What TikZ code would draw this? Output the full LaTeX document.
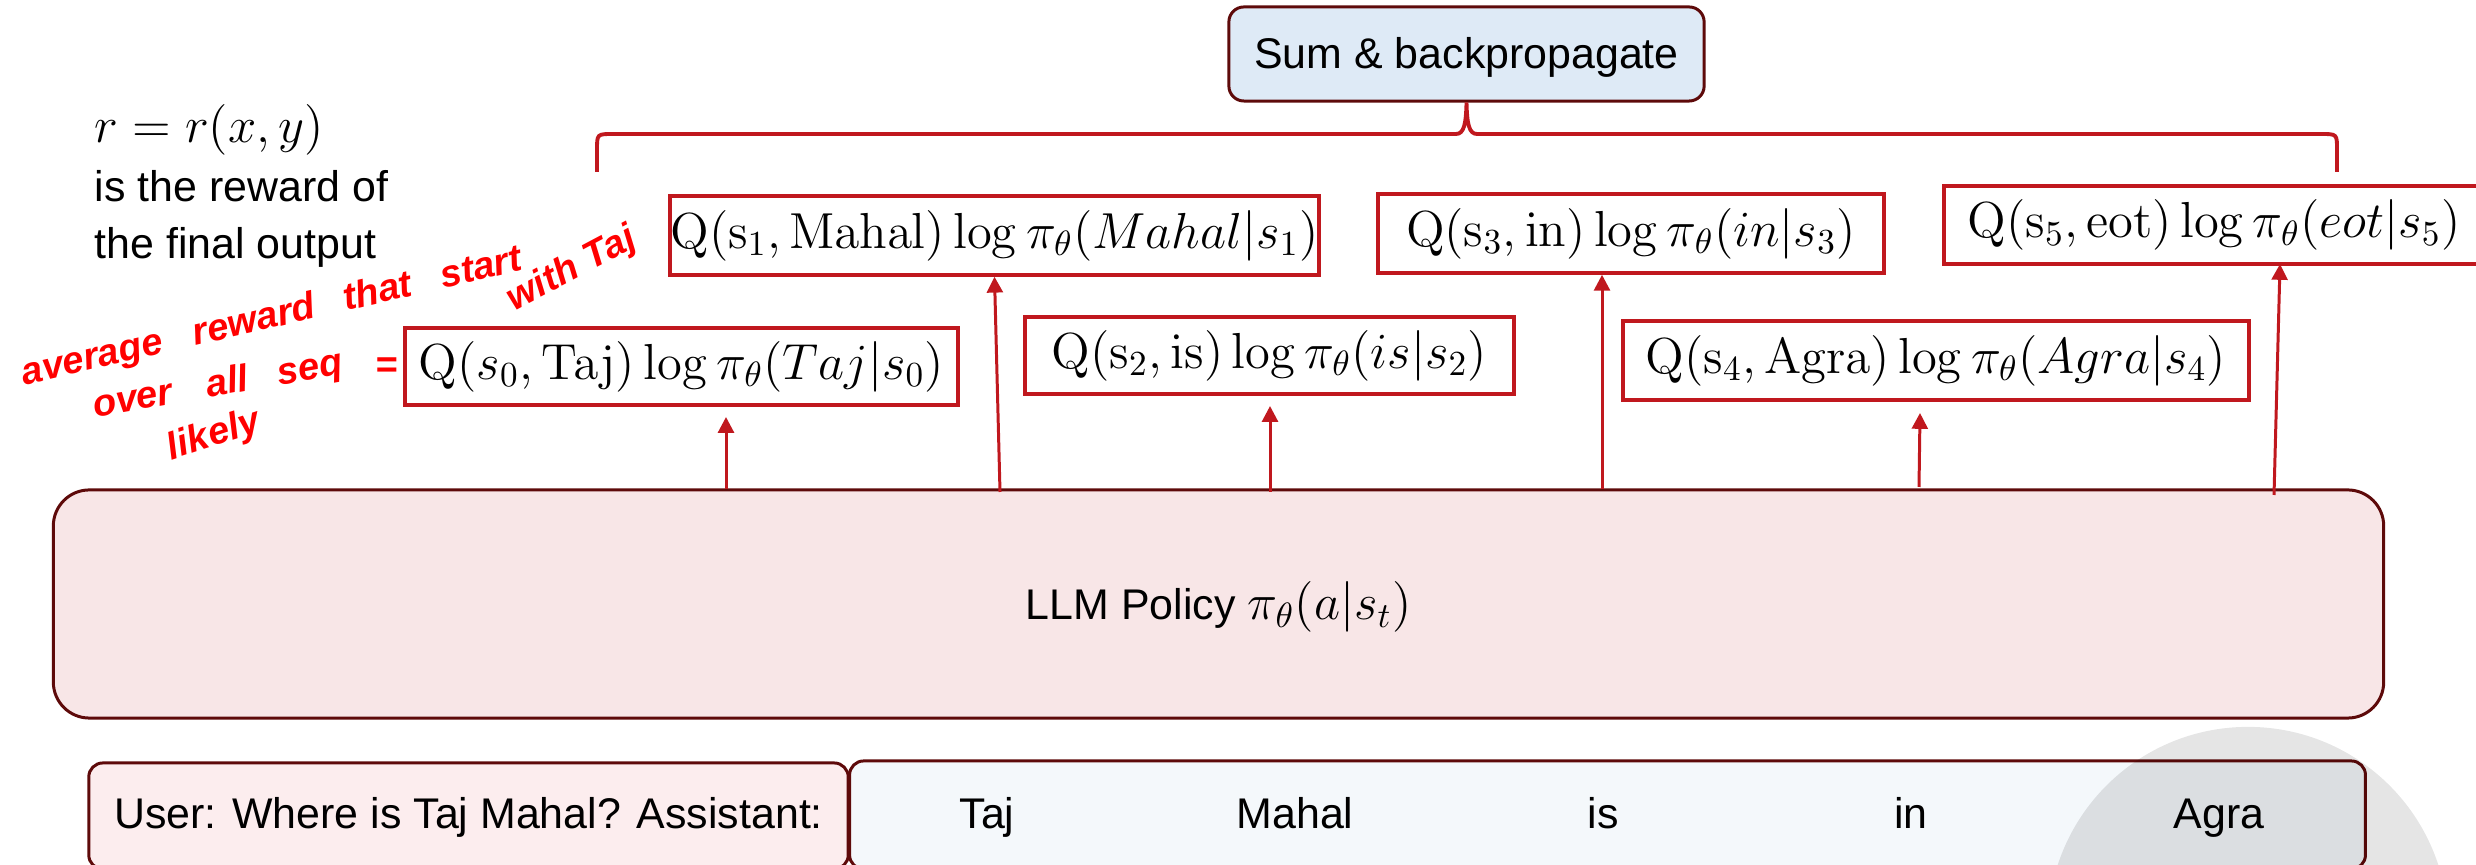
\documentclass[tikz,border=0pt]{standalone}
\usepackage[no-math]{fontspec}
\setmainfont{Liberation Sans}
\setsansfont{Liberation Sans}
\usetikzlibrary{arrows.meta}
\definecolor{qred}{RGB}{192,24,30}
\definecolor{dred}{RGB}{94,10,10}
\definecolor{sumfill}{RGB}{222,234,246}
\definecolor{llmfill}{RGB}{248,230,231}
\definecolor{userfill}{RGB}{252,237,238}
\definecolor{respfill}{RGB}{244,248,251}
\definecolor{hand}{RGB}{255,0,0}
\newcommand{\txtsize}{\fontsize{12.2}{14.6}\selectfont}
\newcommand{\mathsz}{\fontsize{13.7}{16}\selectfont}
\newcommand{\handsz}{\fontsize{10.8}{13}\selectfont}
\tikzset{
  qbox/.style={draw=qred, line width=1pt, fill=white, inner sep=0pt, font=\mathsz},
  dbox/.style={draw=dred, line width=0.85pt, inner sep=0pt, font=\txtsize},
  arr/.style={draw=qred, line width=0.85pt, -{Triangle[length=4.5pt,width=4.5pt]}},
  hw/.style={text=hand, font=\handsz\bfseries\itshape, inner sep=0pt},
  tok/.style={font=\txtsize, inner sep=0pt, anchor=base},
  lefttxt/.style={font=\txtsize, inner sep=0pt, anchor=base west},
  bracestyle/.style={draw=qred, line width=1.1pt},
}
\begin{document}
\begin{tikzpicture}[x=0.01cm, y=-0.01cm]
\useasboundingbox (0,0) rectangle (2476,865);

% LLM policy box
\node[dbox, fill=llmfill, rounded corners=0.36cm, minimum width=23.29cm, minimum height=2.28cm] (llm) at (1218.5,604) {};
\node[tok] (llmtxt) at (1218.5,620) {LLM Policy {\mathsz$\pi_\theta(a|s_t)$}};

% bottom boxes
\node[dbox, fill=userfill, rounded corners=0.14cm, minimum width=7.59cm, minimum height=1.06cm] (user) at (468.5,816) {};
\node[tok] (usertxt) at (468.5,829) {User: Where is Taj Mahal? Assistant:};
\node[dbox, fill=respfill, rounded corners=0.14cm, minimum width=15.15cm, minimum height=1.08cm] (resp) at (1607.5,815) {};
\fill[black, fill opacity=0.1] (2248,927) circle[radius=2cm];
\node[tok] (w1) at (987,829) {Taj};
\node[tok] (w2) at (1295,829) {Mahal};
\node[tok] (w3) at (1603,829) {is};
\node[tok] (w4) at (1911,829) {in};
\node[tok] (w5) at (2219,829) {Agra};

% Q boxes
\node[qbox, minimum width=5.53cm, minimum height=0.77cm] (q0) at (681.5,366.5) {$\mathrm{Q}(s_0, \mathrm{Taj})\log\pi_\theta(Taj|s_0)$};
\node[qbox, minimum width=6.49cm, minimum height=0.79cm] (q1) at (994.5,235.5) {$\mathrm{Q}(\mathrm{s}_1, \mathrm{Mahal})\log\pi_\theta(Mahal|s_1)$};
\node[qbox, minimum width=4.89cm, minimum height=0.77cm] (q2) at (1269.5,355.5) {$\mathrm{Q}(\mathrm{s}_2, \mathrm{is})\log\pi_\theta(is|s_2)$};
\node[qbox, minimum width=5.06cm, minimum height=0.79cm] (q3) at (1631,233.5) {$\mathrm{Q}(\mathrm{s}_3, \mathrm{in})\log\pi_\theta(in|s_3)$};
\node[qbox, minimum width=6.26cm, minimum height=0.79cm] (q4) at (1936,360.5) {$\mathrm{Q}(\mathrm{s}_4, \mathrm{Agra})\log\pi_\theta(Agra|s_4)$};
\node[qbox, minimum width=5.40cm, minimum height=0.78cm] (q5) at (2214,225) {$\mathrm{Q}(\mathrm{s}_5, \mathrm{eot})\log\pi_\theta(eot|s_5)$};

% arrows
\coordinate (t0) at (726,489);
\coordinate (h0) at (726,417);
\coordinate (t1) at (1000,492);
\coordinate (t2) at (1270,492);
\coordinate (h2) at (1270,406);
\coordinate (t3) at (1602,489);
\coordinate (t4) at (1919,487);
\coordinate (h4) at (1920,413);
\coordinate (t5) at (2274,495);
\coordinate (h5) at (2280,264);
\draw[arr] (t0) -- (h0);
\draw[arr] (t1) -- (q1.south);
\draw[arr] (t2) -- (h2);
\draw[arr] (t3) -- (q3.south -| t3);
\draw[arr] (t4) -- (h4);
\draw[arr] (t5) -- (h5);

% sum box and brace
\node[dbox, fill=sumfill, rounded corners=0.15cm, minimum width=4.75cm, minimum height=0.94cm] (sum) at (1466.5,54) {};
\node[tok] (sumtxt) at (1466.5,69) {Sum \& backpropagate};
\coordinate (bl) at (597,172);
\coordinate (br) at (2337,172);
\draw[bracestyle] (bl) -- (597,150) .. controls (597,134) .. (613,134) -- (1456,134)
  .. controls (1464,134) and (1466,124) .. (sum.south)
  .. controls (1467,124) and (1469,134) .. (1477,134) -- (2321,134)
  .. controls (2337,134) .. (2337,150) -- (br);

% left text
\node[lefttxt] (rdef) at (94,143) {\mathsz$r = r(x, y)$};
\node[lefttxt] (l2) at (94,202) {is the reward of};
\node[lefttxt] (l3) at (94,259) {the final output};

% handwritten annotation
\node[hw, rotate=13] (hw1) at (272,318) {average\hspace{0.32cm}reward\hspace{0.3cm}that\hspace{0.3cm}start};
\node[hw, rotate=28] (hw2) at (572,270) {with Taj};
\node[hw, rotate=10] (hw3) at (218,386) {over\hspace{0.35cm}all\hspace{0.3cm}seq};
\node[hw, rotate=18] (hw4) at (214,436) {likely};
\node[hw] (hw5) at (387,368) {=};
\end{tikzpicture}
\end{document}
